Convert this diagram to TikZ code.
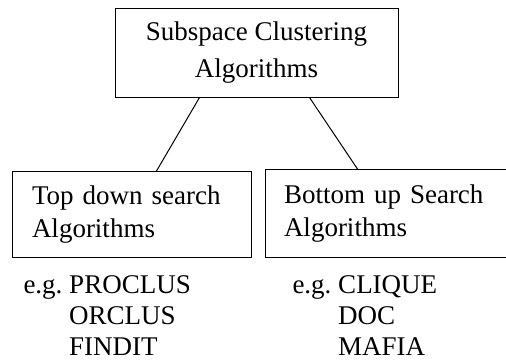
\documentclass[tikz,border=0pt]{standalone}
\usepackage{fontspec}
\setmainfont{Liberation Serif}

\begin{document}
\begin{tikzpicture}[x=1pt,y=-1pt,line width=1pt,
  every node/.style={font=\fontsize{27}{37}\selectfont},
  algbox/.style={draw,inner sep=0pt,align=left,font=\fontsize{27}{33}\selectfont},
  eglist/.style={inner sep=0pt,anchor=north west,font=\fontsize{27}{31}\selectfont}]
\useasboundingbox (0,0) rectangle (506,360);
\clip (0,0) rectangle (506,360);
\node[draw,align=center,inner sep=0pt,minimum width=283pt,minimum height=89pt] (sca) at (256.5,52.5) {Subspace Clustering\\Algorithms};
\node[algbox,text width=199pt,inner xsep=20pt,minimum height=86pt] (tds) at (131.5,214.5) {Top down search\\Algorithms};
\node[algbox,text width=222pt,inner xsep=19pt,minimum height=88pt] (bus) at (395,213.5) {Bottom up Search\\Algorithms};
\node[eglist] (tdsex) at (23,271.3) {\begin{tabular}{@{}l@{\ }l@{}}e.g. & PROCLUS\\ & ORCLUS\\ & FINDIT\end{tabular}};
\node[eglist] (busex) at (292,271.3) {\begin{tabular}{@{}l@{\ }l@{}}e.g. & CLIQUE\\ & DOC\\ & MAFIA\end{tabular}};
% draw the branches
\draw ([xshift=85pt]sca.south west) -- ([xshift=145pt]tds.north west);
\draw ([xshift=195pt]sca.south west) -- ([xshift=93pt]bus.north west);
\end{tikzpicture}
\end{document}
